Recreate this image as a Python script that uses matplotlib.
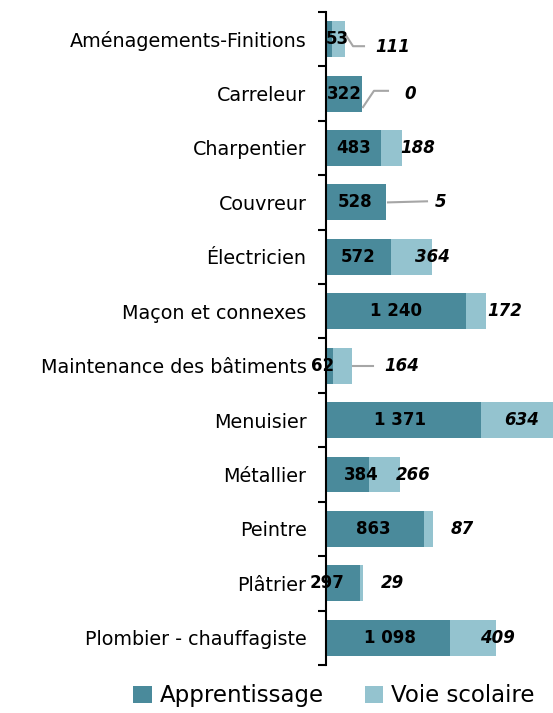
import numpy as np
import matplotlib.pyplot as plt

metiers = ["Aménagements-Finitions", "Carreleur", "Charpentier", "Couvreur",
           "Électricien", "Maçon et connexes", "Maintenance des bâtiments",
           "Menuisier", "Métallier", "Peintre", "Plâtrier",
           "Plombier - chauffagiste"]
apprentissage = [53, 322, 483, 528, 572, 1240, 62, 1371, 384, 863, 297, 1098]
voie_scolaire = [111, 0, 188, 5, 364, 172, 164, 634, 266, 87, 29, 409]

# label placement (data units), tuned by eye
app_lbl_x = [97, 161, 241, 256, 286, 620, -27, 654, 309, 416, 9, 566]
vs_lbl_x = [592, 743, 813, 1017, 937, 1583, 672, 1733, 769, 1202, 584, 1512]
vs_lbl_dy = [0.14, 0.0, 0, 0, 0, 0, 0, 0, 0, 0, 0, 0]

c_app = "#4a8a9b"
c_vs = "#94c3cf"

fig = plt.figure(figsize=(5.53, 7.13), dpi=100)
ax = fig.add_axes([0.5895, 0.0673, 0.4105, 0.916])

y = np.arange(len(metiers))
ax.barh(y, apprentissage, height=0.66, color=c_app, label="Apprentissage")
ax.barh(y, voie_scolaire, left=apprentissage, height=0.66, color=c_vs,
        label="Voie scolaire")

for i in range(len(metiers)):
    txt = f"{apprentissage[i]:,}".replace(",", " ")
    ax.text(app_lbl_x[i], i, txt, ha="center", va="center",
            fontsize=12, fontweight="bold", color="black", zorder=5)
    ax.text(vs_lbl_x[i], i + vs_lbl_dy[i], str(voie_scolaire[i]),
            ha="center", va="center", fontsize=12, fontweight="bold",
            fontstyle="italic", color="black", zorder=5)

# leader lines
lc = "#a6a6a6"
ax.plot([183, 239, 336], [-0.05, 0.13, 0.13], color=lc, lw=1.5, clip_on=False)
ax.plot([327, 424, 548], [1.25, 0.95, 0.95], color=lc, lw=1.5, clip_on=False)
ax.plot([548, 893], [3.0, 2.98], color=lc, lw=1.5, clip_on=False)
ax.plot([239, 416], [6.0, 6.0], color=lc, lw=1.5, clip_on=False)

ax.set_xlim(0, 2007)
ax.set_ylim(len(metiers) - 0.5, -0.5)
ax.set_yticks(y)
ax.set_yticklabels(metiers, fontsize=13.8)
ax.set_yticks(np.arange(-0.5, len(metiers)), minor=True)
ax.tick_params(axis="y", which="major", length=0, pad=14)
ax.tick_params(axis="y", which="minor", length=6, width=1.5, direction="out")
ax.set_xticks([])
for s in ["top", "right", "bottom"]:
    ax.spines[s].set_visible(False)
ax.spines["left"].set_linewidth(1.5)

fig.legend(loc="center", bbox_to_anchor=(0.604, 0.024), ncol=2, frameon=False,
           fontsize=16.5, handlelength=0.8, handleheight=0.8, handletextpad=0.35,
           columnspacing=1.8)

fig.savefig("out.png", dpi=100)
